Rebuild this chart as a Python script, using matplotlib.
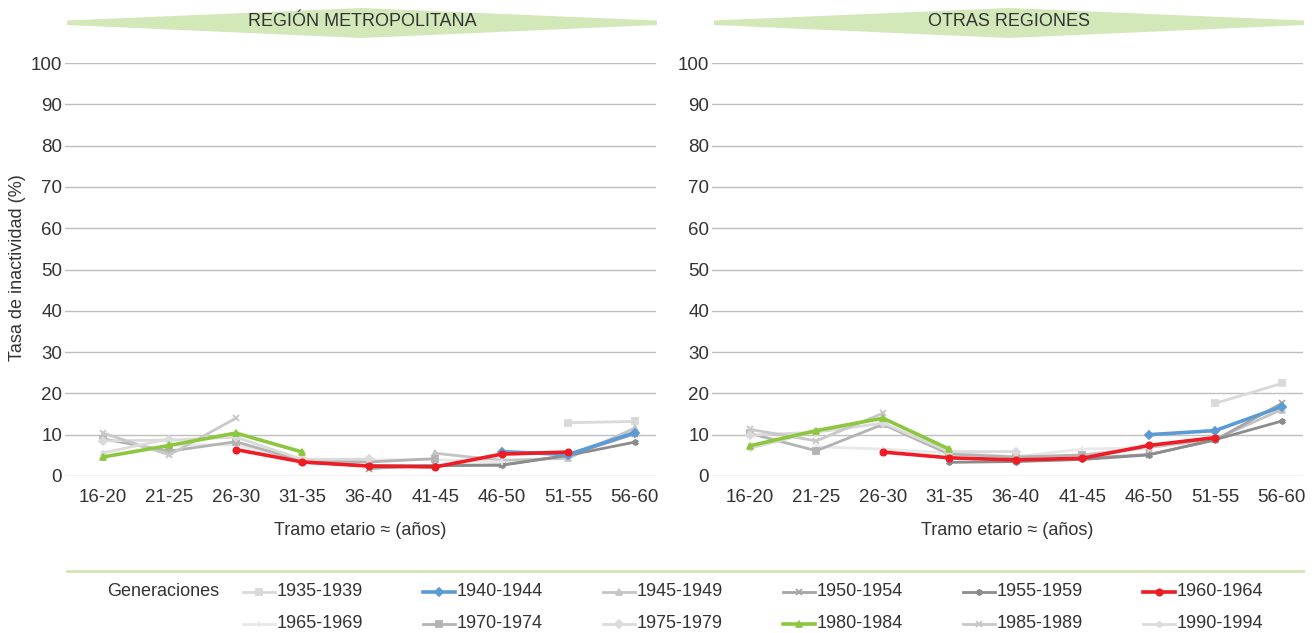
import numpy as np
import matplotlib.pyplot as plt
from matplotlib.patches import Polygon
from matplotlib.lines import Line2D

plt.rcParams['font.family'] = ['Liberation Sans', 'DejaVu Sans']

tramos = ['16-20', '21-25', '26-30', '31-35', '36-40', '41-45', '46-50', '51-55', '56-60']
generaciones = ['1935-1939', '1940-1944', '1945-1949', '1950-1954', '1955-1959', '1960-1964',
                '1965-1969', '1970-1974', '1975-1979', '1980-1984', '1985-1989', '1990-1994']
# first age bracket (index into tramos) observed for each generation
inicio = [7, 6, 5, 4, 3, 2, 1, 0, 0, 0, 0, 0]

# Región Metropolitana
rm = [
    [12.9, 13.2],
    [5.9, 5.2, 10.5],
    [5.5, 3.8, 4.3, 11.6],
    [1.8, 2.6, 2.7, 5.0, 10.2],
    [3.3, 2.5, 2.5, 2.6, 5.0, 8.2],
    [6.4, 3.4, 2.4, 2.2, 5.3, 5.8],
    [7.5, 7.6, 3.8, 3.9, 4.0, 3.4],
    [9.0, 6.0, 8.3, 3.7, 3.4, 4.2],
    [8.5, 8.7, 9.4, 4.0, 4.1],
    [4.6, 7.4, 10.4, 5.8],
    [10.4, 5.1, 14.0],
    [5.6, 9.0],
]
# Otras regiones
otras = [
    [17.6, 22.4],
    [10.0, 11.0, 16.8],
    [5.1, 6.9, 8.9, 16.1],
    [3.6, 4.3, 5.2, 8.7, 17.6],
    [3.3, 3.5, 4.0, 5.1, 8.8, 13.3],
    [5.8, 4.4, 3.9, 4.3, 7.4, 9.3],
    [7.1, 6.5, 5.6, 4.7, 6.5, 6.9],
    [10.3, 6.1, 12.5, 5.3, 4.6, 5.1],
    [9.9, 10.6, 12.8, 5.9, 5.9],
    [7.3, 11.0, 14.0, 6.5],
    [11.3, 8.5, 15.2],
    [6.7, 10.8],
]

colores = ['#d9d9d9', '#5b9bd5', '#c4c4c4', '#a6a6a6', '#8c8c8c', '#ee1c25',
           '#e8e8e8', '#b3b3b3', '#dadada', '#8dc63f', '#c8c8c8', '#dcdcdc']
asterisco = (6, 2, 0)
marcas = ['s', 'D', '^', 'x', asterisco, 'o', '+', 's', 'D', '^', 'x', asterisco]
destacadas = ['1940-1944', '1960-1964', '1980-1984']

fig = plt.figure(figsize=(13.15, 6.33), dpi=100)
W, H = 1315, 633
FS = 13
TXT = '#333333'

def panel(x0, datos, titulo):
    ax = fig.add_axes([x0 / W, (H - 476) / H, 591 / W, 413 / H])
    for i, g in enumerate(generaciones):
        xs = np.arange(inicio[i], inicio[i] + len(datos[i]))
        fuerte = g in destacadas
        ax.plot(xs, datos[i], color=colores[i], marker=marcas[i],
                lw=2.6 if fuerte else 2.0, ms=4.5 if fuerte else 4.5,
                mew=1.3, zorder=5 + (3 if g == '1960-1964' else 2 if fuerte else 0))
    ax.set_xlim(-0.57, 8.32)
    ax.set_ylim(0, 100)
    ax.set_yticks(np.arange(0, 101, 10))
    ax.set_xticks(range(len(tramos)))
    ax.set_xticklabels(tramos)
    ax.tick_params(length=0, labelsize=13.5, labelcolor=TXT)
    ax.tick_params(axis='x', pad=9)
    ax.tick_params(axis='y', pad=2)
    ax.grid(axis='y', color='#bfbfbf', lw=1)
    ax.set_axisbelow(True)
    for s in ax.spines.values():
        s.set_visible(False)
    ax.set_xlabel('Tramo etario ≈ (años)', fontsize=FS, color=TXT, labelpad=12)
    # banner
    l, r, c = x0 + 2, x0 + 592, x0 + 297
    pts = [(l, 20.5), (c, 8), (r, 20.5), (r, 25), (c, 38), (l, 25)]
    pts = [(px / W, 1 - py / H) for px, py in pts]
    fig.add_artist(Polygon(pts, closed=True, transform=fig.transFigure,
                           facecolor='#d3e8b9', edgecolor='none'))
    fig.text(c / W, 1 - 22 / H, titulo, ha='center', va='center', fontsize=FS, color=TXT)
    return ax

panel(65, rm, 'REGIÓN METROPOLITANA')
panel(712, otras, 'OTRAS REGIONES')

fig.text(18 / W, 1 - 268 / H, 'Tasa de inactividad (%)', rotation=90,
         ha='center', va='center', fontsize=FS, color=TXT)

# separator line
fig.add_artist(Line2D([67 / W, 1303 / W], [1 - 571 / H] * 2, transform=fig.transFigure,
                      color='#cfe5b5', lw=2))

# legend
fig.text(107 / W, 1 - 592 / H, 'Generaciones', ha='left', va='center', fontsize=FS, color=TXT)
for i, g in enumerate(generaciones):
    fila, col = divmod(i, 6)
    x = 243 + 180 * col
    y = 1 - (592 + 32 * fila) / H
    fuerte = g in destacadas
    fig.add_artist(Line2D([x / W, (x + 32) / W], [y, y], transform=fig.transFigure,
                          color=colores[i], lw=2.6 if fuerte else 2.0))
    fig.add_artist(Line2D([(x + 16) / W], [y], transform=fig.transFigure,
                          color=colores[i], marker=marcas[i], ms=4.5, mew=1.3, lw=0))
    fig.text((x + 34) / W, y, g, ha='left', va='center', fontsize=FS, color=TXT)

fig.savefig('out.png', dpi=100)
